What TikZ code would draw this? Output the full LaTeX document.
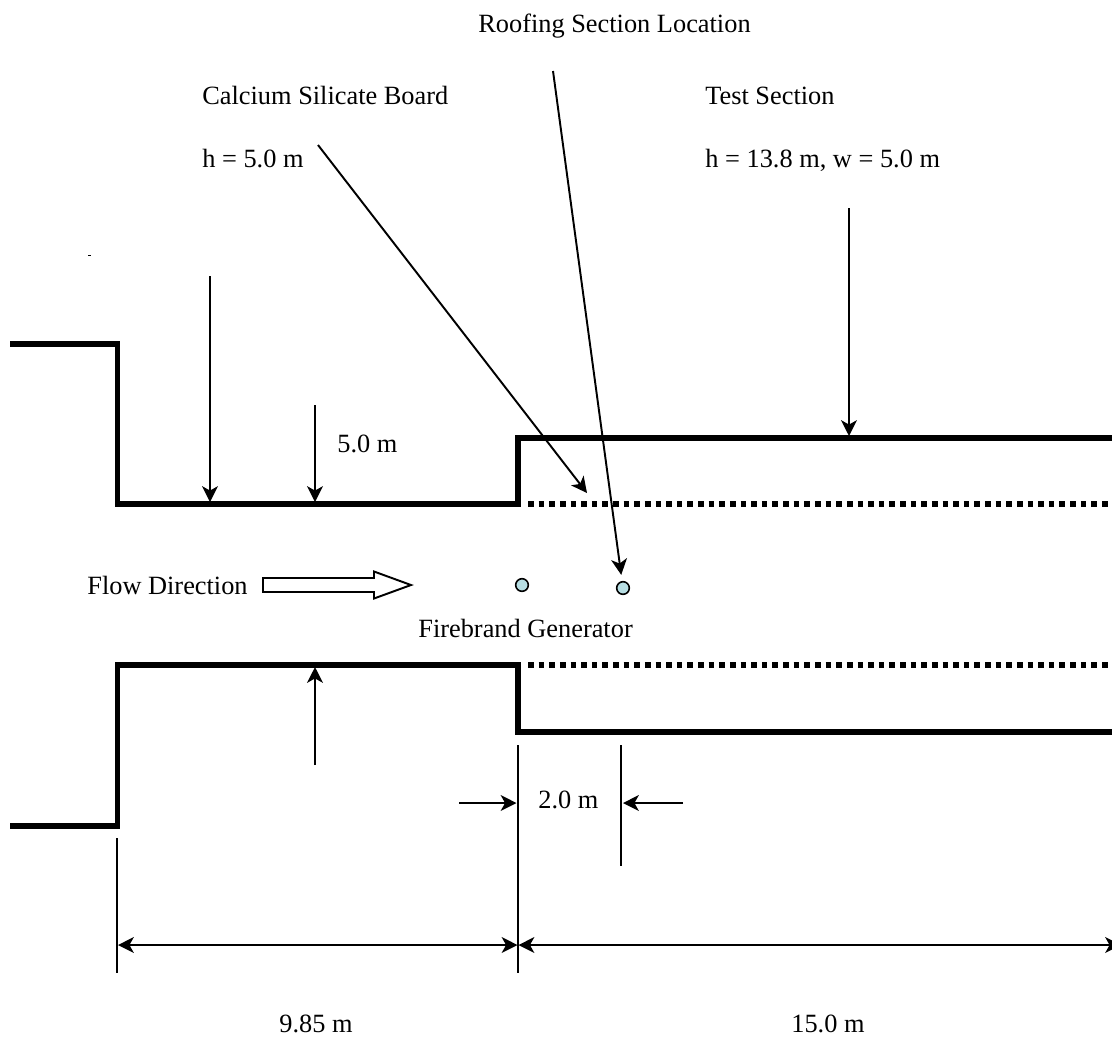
\documentclass[tikz,border=0pt]{standalone}
\usepackage{fontspec}
\setmainfont{Liberation Serif}
\usetikzlibrary{arrows.meta}
\definecolor{genfill}{HTML}{B7DEE3}
\tikzset{
  wall/.style={line width=3pt,line join=miter},
  dotwall/.style={line width=3pt,dash pattern=on 3.2pt off 2.85pt},
  thin line/.style={line width=1.1pt},
  pointer/.style={thin line,-{Stealth[length=9pt,width=9pt,inset=2.5pt]}},
  dimarrow/.style={thin line,{Stealth[length=9pt,width=9pt,inset=2.5pt]}-{Stealth[length=9pt,width=9pt,inset=2.5pt]}},
  lbl/.style={font=\fontsize{15pt}{18pt}\selectfont,inner sep=0pt,anchor=base west},
  gen/.style={circle,draw,line width=0.9pt,fill=genfill,minimum size=7.2pt,inner sep=0pt},
}
\begin{document}
\begin{tikzpicture}[x=0.02cm,y=-0.02cm]
\useasboundingbox (0,0) rectangle (1112,1036);
% walls
\draw[wall] (10,344) -- (117.5,344) -- (117.5,504) -- (518,504) -- (518,438) -- (1112,438);
\draw[wall] (10,826) -- (117.5,826) -- (117.5,665) -- (518,665) -- (518,732) -- (1112,732);
\draw[dotwall] (528,504) -- (1112,504);
\draw[dotwall] (528,665) -- (1112,665);
% stray mark
\fill (88,254.5) rectangle (91,256.2);
% labels
\node[lbl] (roof) at (478,32) {Roofing Section Location};
\node[lbl] (cal) at (202,104) {Calcium Silicate Board};
\node[lbl] (calh) at (202,167) {h = 5.0 m};
\node[lbl] (test) at (705,104) {Test Section};
\node[lbl] (testh) at (705,167) {h = 13.8 m, w = 5.0 m};
\node[lbl] (five) at (337,452) {5.0 m};
\node[lbl] (flow) at (87,594) {Flow Direction};
\node[lbl] (fire) at (418,637) {Firebrand Generator};
\node[lbl] (two) at (538,808) {2.0 m};
\node[lbl] (d1) at (279,1032) {9.85 m};
\node[lbl] (d2) at (791,1032) {15.0 m};
% generators
\node[gen] (g1) at (522,585) {};
\node[gen] (g2) at (623,588) {};
% block arrow
\draw[line width=1.1pt,line join=miter,fill=white] (263,578) -- (374,578) -- (374,571.5) -- (411,585) -- (374,598.5) -- (374,592) -- (263,592) -- cycle;
% pointer coordinates
\coordinate (a1s) at (210,276); \coordinate (a1e) at (210,502);
\coordinate (a2s) at (315,405); \coordinate (a2e) at (315,502);
\coordinate (a3s) at (849,208); \coordinate (a3e) at (849,436);
\coordinate (a4s) at (315,765); \coordinate (a4e) at (315,667);
\coordinate (a5s) at (318,145); \coordinate (a5e) at (587,493);
\coordinate (a6s) at (553,71);
\draw[pointer] (a1s) -- (a1e);
\draw[pointer] (a2s) -- (a2e);
\draw[pointer] (a3s) -- (a3e);
\draw[pointer] (a4s) -- (a4e);
\draw[pointer] (a5s) -- (a5e);
\draw[pointer,shorten >=3.5pt] (a6s) -- (g2);
% dimension lines
\coordinate (e1t) at (117,838); \coordinate (e1b) at (117,973);
\coordinate (e2t) at (518,745); \coordinate (e2b) at (518,973);
\coordinate (e3t) at (621,745); \coordinate (e3b) at (621,866);
\draw[thin line] (e1t) -- (e1b);
\draw[thin line] (e2t) -- (e2b);
\draw[thin line] (e3t) -- (e3b);
\coordinate (l1) at (459,803); \coordinate (l2) at (516.5,803);
\coordinate (r1) at (683,803); \coordinate (r2) at (623,803);
\draw[pointer] (l1) -- (l2);
\draw[pointer] (r1) -- (r2);
\coordinate (m1) at (118,945); \coordinate (m2) at (517.5,945);
\coordinate (m3) at (518.5,945); \coordinate (m4) at (1121,945);
\draw[dimarrow] (m1) -- (m2);
\draw[dimarrow] (m3) -- (m4);
\end{tikzpicture}
\end{document}
